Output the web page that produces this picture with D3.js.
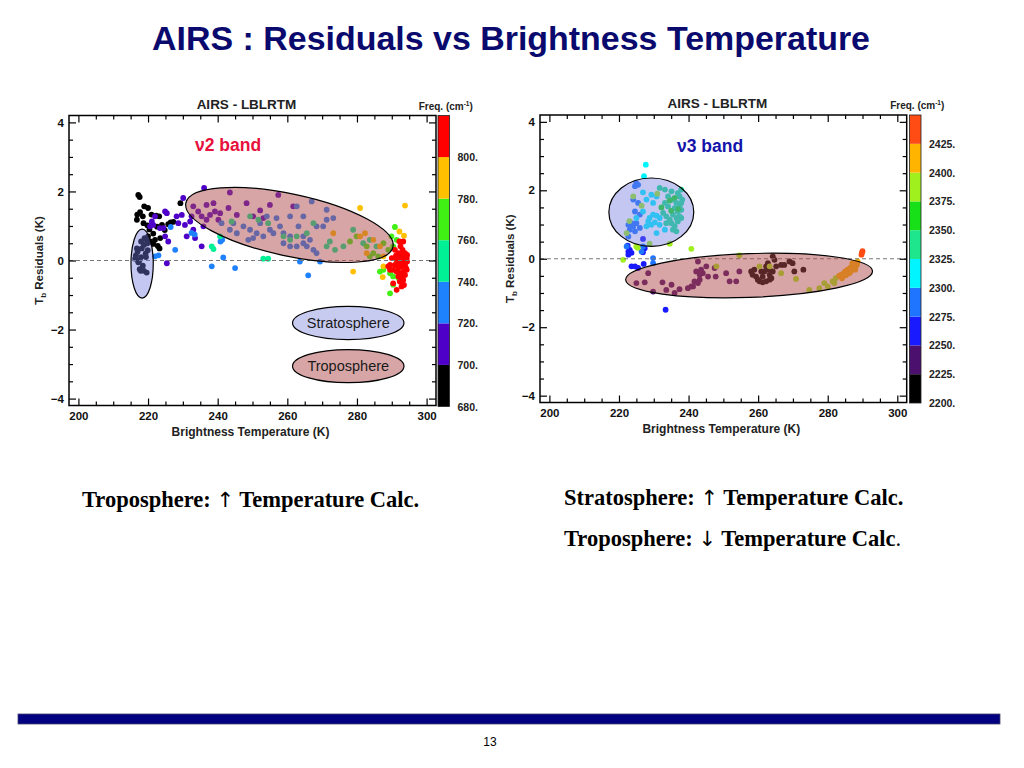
<!DOCTYPE html>
<html><head><meta charset="utf-8">
<script src="https://cdn.jsdelivr.net/npm/d3@7/dist/d3.min.js"></script>
<style>
html,body{margin:0;padding:0;background:#fff;}
svg{display:block;}
</style></head>
<body>
<script>
// ---------------- DATA ----------------
const xTicks = [200, 220, 240, 260, 280, 300];
const yTicks = [-4, -2, 0, 2, 4];

// v2 band (left chart) colour bins (cm-1)
const v2Bins = [680, 700, 720, 740, 760, 780, 800, 820];
const v2Colors = ["#000000", "#4f00c8", "#1e82ff", "#00f096", "#40f014", "#ffc000", "#ff0000"];
const v2Labels = ["680.", "700.", "720.", "740.", "760.", "780.", "800."];

// points [Tb (K), residual (K)] per frequency bin
const v2_680 = [[217.2,1.90],[217.6,1.84],[218.9,1.57],[220.0,1.52],[216.9,1.33],[217.7,1.40],[218.5,1.28],[216.8,1.18],[218.7,1.08],[219.8,1.02],[221.0,1.33],[222.3,1.30],[223.2,1.28],[220.4,0.90],[221.5,0.78],[222.6,0.98],[224.0,1.03],[224.8,0.88],[225.8,1.05],[226.5,1.10],[227.3,1.12],[229.3,1.66],[220.6,0.55],[221.5,0.48],[222.8,0.42],[223.3,0.35],[220.0,0.70],[219.2,0.62],[223.5,0.65],[222.0,0.60],
  [216.5,0.15],[217.0,0.25],[217.5,0.0],[218.2,0.35],[218.8,0.45],[219.3,0.2],[217.6,-0.25],[218.5,-0.15],[219.6,-0.35],[216.3,0.05],[218.0,0.55],[219.0,0.65],[219.8,0.5],[217.2,-0.05],[218.8,-0.3],[216.8,0.35],[219.4,0.1],[218.0,0.1],[217.9,-0.3],[219.9,0.3]];
const v2_700 = [[220.6,0.99],[221.5,1.03],[223.4,0.94],[224.9,1.42],[225.4,1.37],[224.4,0.94],[224.9,0.70],[225.8,0.55],[225.4,-0.08],[228.2,1.28],[228.7,1.08],[229.7,1.32],[230.6,1.03],[231.1,0.70],[232.1,1.13],[232.5,1.28],[233.0,0.89],[233.5,0.65],[235.4,0.41],[235.9,0.99],[236.1,2.10],[230.1,1.81],[222.0,1.28],[221.1,1.13],
  [233.0,1.57],[236.8,1.61],[238.8,1.66],[239.2,1.42],[237.8,1.32],[240.7,1.37],[240.2,1.18],[243.5,1.97],[243.1,1.52],[245.5,1.32],[248.3,1.66],[252.2,1.45],[253.1,1.23],[255.0,1.61],[257.4,1.90],[261.7,1.57],[250.2,1.28],[236.8,1.18],[235.4,1.28],[234.4,1.42]];
const v2_720 = [[247.4,0.99],[249.3,0.89],[251.2,0.79],[253.1,0.70],[248.8,0.60],[250.2,0.65],[255.0,0.89],[257.9,0.99],[258.9,0.79],[260.8,0.70],[263.2,0.99],[264.6,0.70],[265.6,0.41],[267.5,0.31],[268.4,0.21],[262.7,0.41],[264.6,0.50],[266.5,0.60],[271.3,1.47],[271.3,1.18],[273.2,1.23],[270.3,0.99],[258.9,0.50],[245.5,0.79],[243.5,0.89],[241.1,1.08],[244.5,1.08],[254.1,1.28],[256.9,1.23],[260.8,1.28],[262.7,1.57],[264.6,1.28],[268.4,0.99],[256.0,0.79],[260.8,0.41],[252.2,1.08],
  [222.0,0.12],[223.0,0.15],[227.8,0.31],[238.3,-0.17],[241.6,0.09],[245.0,-0.22],[266.0,-0.43],[263.6,-0.03],[269.4,-0.03],[240.8,0.55],[241.3,0.60],[267.0,1.71],[226.5,0.97],[232.5,0.80],[233.4,0.75]];
const v2_740 = [[244.0,1.13],[249.3,1.28],[251.7,1.18],[254.5,1.08],[258.9,0.70],[260.8,0.60],[262.7,0.70],[265.6,0.79],[267.5,1.08],[271.3,0.41],[272.2,0.55],[273.7,0.31],[276.1,0.41],[278.9,0.89],[281.8,0.50],[283.7,0.60],[285.6,0.41],
  [238.3,0.41],[238.8,0.33],[253.1,0.05],[254.5,0.05],[240.7,0.70]];
const v2_760 = [[290.9,0.97],[289.9,0.70],[291.4,0.60],[290.4,0.41],[289.0,0.31],[286.6,-0.32],[287.6,-0.27],[289.5,-0.37],[290.4,-0.46],[290.4,-0.70],[289.5,-0.95],[291.9,-0.51],[291.4,-0.08],[286.1,0.12],
  [279.9,0.70],[282.8,0.41],[284.7,0.21],[278.0,0.55],[287.6,0.50],[283.7,0.12]];
const v2_780 = [[280.9,1.52],[293.8,1.59],[293.5,0.72],[292.2,0.84],[278.9,-0.32],[287.4,-0.48],[273.2,0.79],[280.9,0.70],[282.3,0.79],[284.7,0.60],[286.6,0.41],[282.8,0.21],[287.6,0.12],[287.6,-0.17]];
const v2_800 = [[290.9,0.31],[291.9,0.21],[292.8,0.16],[293.8,0.21],[293.3,0.12],[292.3,0.07],[291.4,0.02],[294.3,0.07],[293.3,-0.03],[292.2,-0.08],[290.9,-0.13],[289.5,-0.13],[293.8,-0.13],[292.8,-0.17],[291.9,-0.22],[294.3,-0.27],[293.3,-0.32],[292.3,-0.37],[291.4,-0.32],[290.4,-0.27],[293.8,-0.42],[292.8,-0.46],[291.9,-0.46],[293.3,-0.56],[292.3,-0.61],[293.5,-0.71],[292.8,-0.75],[291.4,-0.85],[290.4,-0.66],[289.5,-0.27],[289.0,-0.17],[292.2,0.55],[293.3,0.55],[294.4,0.16],[294.4,-0.03],[294.1,-0.22],[290.0,0.07],[291.2,0.14],[292.5,0.41],[293.1,0.31]];
const v2Points = [v2_680, v2_700, v2_720, v2_740, v2_760, v2_780, v2_800];

// v3 band (right chart)
const v3Bins = [2200, 2225, 2250, 2275, 2300, 2325, 2350, 2375, 2400, 2425, 2450];
const v3Colors = ["#000000", "#4b0f6e", "#1a1aff", "#1f75ff", "#00f5ff", "#1ee68c", "#18e018", "#a0f01e", "#ffb400", "#ff4b14"];
const v3Labels = ["2200.", "2225.", "2250.", "2275.", "2300.", "2325.", "2350.", "2375.", "2400.", "2425."];

const v3_2200 = [[258.0,-0.37],[258.9,-0.32],[259.4,-0.52],[259.9,-0.61],[260.4,-0.66],[261.3,-0.52],[261.8,-0.37],[262.3,-0.22],[262.8,-0.13],[263.1,-0.32],[263.3,-0.47],[263.8,-0.57],[262.3,-0.66],[264.2,0.07],[264.7,-0.03],[265.2,-0.22],[266.6,-0.18],[267.5,-0.18],[269.0,-0.08],[269.9,-0.13],[270.4,-0.37],[273.0,-0.32],[264.2,-0.37],[263.3,-0.61],[260.9,-0.37],[258.4,-0.47],[261.3,-0.69]];
const v3_2225 = [[225.0,-0.71],[227.4,-0.69],[229.8,-0.96],[232.5,-0.69],[233.6,-0.91],[235.1,-0.76],[236.0,-1.00],[237.4,-0.89],[239.8,-0.86],[240.8,-0.81],[242.7,-0.08],[242.2,-0.37],[243.2,-0.47],[243.6,-0.32],[244.1,-0.42],[243.2,-0.61],[242.7,-0.71],[245.1,-0.22],[245.6,-0.52],[247.5,-0.27],[247.8,-0.52],[250.8,-0.42],[251.8,-0.66],[253.7,-0.66],[254.6,-0.37],[228.4,-0.42],[241.3,-0.81],[241.7,-0.66]];
const v3_2250 = [[222.7,0.21],[223.1,0.26],[223.6,0.17],[222.7,0.12],[226.9,0.19],[227.4,0.31],[223.6,-0.22],[224.6,-0.22],[225.5,-0.27],[227.1,-0.15],[233.4,-1.49],[226.9,0.58],[222.5,0.38]];
const v3_2275 = [[224.6,2.12],[225.0,2.21],[225.5,2.16],[224.1,1.73],[225.5,1.63],[224.6,1.38],[226.0,1.29],[223.6,1.04],[224.1,0.95],[222.7,0.99],[223.1,0.85],[225.0,1.04],[226.0,0.90],[222.7,0.65],[224.6,0.80],[222.2,0.36],[226.9,0.36],[226.5,0.21],[229.8,0.02],[229.8,-0.13]];
const v3_2300 = [[227.7,2.75],[227.2,2.41],[226.9,1.94],[227.9,1.73],[229.3,1.87],[229.8,1.63],[230.8,1.82],[226.9,1.38],[228.8,1.19],[229.8,1.29],[230.8,1.26],[228.4,1.09],[229.3,0.99],[230.3,1.06],[231.7,1.19],[227.9,0.95],[231.7,0.99],[233.2,0.85],[230.8,0.75],[225.0,1.19]];
const v3_2325 = [[231.7,2.07],[233.2,2.02],[234.1,1.82],[235.1,1.97],[235.5,1.73],[236.5,1.63],[236.9,1.92],[237.4,1.82],[237.9,2.02],[238.2,1.73],[236.0,1.48],[236.9,1.38],[237.4,1.53],[237.9,1.43],[235.5,1.29],[236.5,1.19],[237.4,1.24],[234.6,1.14],[233.6,1.04],[235.1,1.04],[236.0,0.95],[236.9,1.09],[237.9,1.19],[235.5,0.85],[236.5,0.80],[233.2,1.63],[234.1,1.53],[232.7,1.34],[233.6,1.24],[237.9,1.63]];
const v3_2350 = [[234.6,1.70],[236.0,1.78],[237.0,1.45],[235.0,1.40],[232.2,1.50]];
const v3_2375 = [[248.0,-0.22],[254.6,0.10],[260.4,-0.22],[266.6,-0.42],[270.9,-0.59],[274.7,-0.91],[277.6,-0.86],[279.0,-0.71],[281.4,-0.66],[282.3,-0.57],[283.3,-0.50],[284.2,-0.47],[280.0,-0.81],[281.9,-0.71],[263.3,-0.22],
  [221.2,-0.03],[240.8,0.29],[225.0,0.36],[225.4,0.32],[234.6,0.44],[228.8,0.44],[224.1,1.82],[222.2,0.75],[226.5,1.55],[223.0,1.10],[231.0,1.90]];
const v3_2400 = [[283.3,-0.50],[283.8,-0.47],[284.3,-0.45],[284.7,-0.42],[285.0,-0.37],[285.2,-0.40],[285.7,-0.32],[286.0,-0.35],[286.2,-0.30],[286.4,-0.37],[286.6,-0.25],[286.9,-0.32],[287.1,-0.22],[287.3,-0.27],[287.6,-0.20],[287.8,-0.24],[288.1,-0.13],[288.3,-0.19],[287.9,-0.32],[285.7,-0.44],[284.7,-0.50],[286.6,-0.37],[287.1,-0.13],[288.6,-0.08],[288.4,-0.15],[286.2,-0.42],[285.2,-0.48],[284.1,-0.57]];
const v3_2425 = [[289.8,0.17],[290.0,0.22],[289.7,0.12]];
const v3Points = [v3_2200, v3_2225, v3_2250, v3_2275, v3_2300, v3_2325, v3_2350, v3_2375, v3_2400, v3_2425];

// ---------------- DRAW ----------------
const svg = d3.select("body").append("svg").attr("width", 1024).attr("height", 768)
  .style("font-family", "'Liberation Sans', Arial, Helvetica, sans-serif");

svg.append("text").attr("x", 511).attr("y", 50).attr("text-anchor", "middle")
  .attr("font-size", 33.5).attr("font-weight", "bold").attr("fill", "#0a0a6e")
  .attr("textLength", 718).attr("lengthAdjust", "spacingAndGlyphs")
  .text("AIRS : Residuals vs Brightness Temperature");

function drawChart(o) {
  const g = svg.append("g");
  const x = d3.scaleLinear().domain([197.3, 302.7]).range([o.x0, o.x1]);
  const y = d3.scaleLinear().domain([-4.2, 4.2]).range([o.y1, o.y0]);
  const minorX = d3.range(200, 301, 5).filter(v => v % 20 !== 0);
  const minorY = d3.range(-4, 4.01, 0.5).filter(v => Math.abs(v % 2) > 1e-6);

  // points
  const pts = [];
  o.points.forEach((arr, i) => arr.forEach(p => pts.push({t: p[0], r: p[1], f: o.bins[i]})));
  const color = d3.scaleThreshold().domain(o.bins.slice(1, -1)).range(o.colors);
  g.append("g").selectAll("circle").data(pts).join("circle")
    .attr("cx", d => x(d.t)).attr("cy", d => y(d.r)).attr("r", 2.9)
    .attr("fill", d => color(d.f));

  // zero line
  g.append("line").attr("x1", o.x0).attr("x2", o.x1).attr("y1", y(0)).attr("y2", y(0))
    .attr("stroke", "#777").attr("stroke-width", 1).attr("stroke-dasharray", "4,3");

  // ellipses (overlays)
  o.ellipses.forEach(e => {
    g.append("ellipse")
      .attr("transform", `translate(${x(e.t)},${y(e.r)}) rotate(${e.angle})`)
      .attr("rx", x(197.3 + e.rt) - x(197.3)).attr("ry", y(0) - y(e.rr))
      .attr("fill", e.fill).attr("fill-opacity", e.op)
      .attr("stroke", "#000").attr("stroke-width", 1.2);
  });
  (o.legend || []).forEach(e => {
    g.append("ellipse").attr("cx", x(e.t)).attr("cy", y(e.r))
      .attr("rx", x(197.3 + e.rt) - x(197.3)).attr("ry", y(0) - y(e.rr))
      .attr("fill", e.fill).attr("stroke", "#000").attr("stroke-width", 1.2);
    g.append("text").attr("x", x(e.t)).attr("y", y(e.r) + 5).attr("text-anchor", "middle")
      .attr("font-size", 14.5).attr("fill", "#1a1a1a").text(e.label);
  });

  // frame
  g.append("rect").attr("x", o.x0).attr("y", o.y0).attr("width", o.x1 - o.x0).attr("height", o.y1 - o.y0)
    .attr("fill", "none").attr("stroke", "#000").attr("stroke-width", 1.5);

  const axStyle = a => { a.select(".domain").remove(); a.selectAll("line").attr("stroke", "#000").attr("stroke-width", 1.2); };
  const lab = a => a.selectAll("text").attr("font-size", 11.5).attr("font-weight", "bold").attr("fill", "#111").attr("font-family", "'Liberation Sans', Arial, sans-serif");
  // bottom
  g.append("g").attr("transform", `translate(0,${o.y1})`)
    .call(d3.axisBottom(x).tickValues(xTicks).tickSize(-7).tickPadding(6).tickFormat(d3.format("d")))
    .call(axStyle).call(lab);
  g.append("g").attr("transform", `translate(0,${o.y1})`)
    .call(d3.axisBottom(x).tickValues(minorX).tickSize(-4).tickFormat("")).call(axStyle);
  // top
  g.append("g").attr("transform", `translate(0,${o.y0})`)
    .call(d3.axisTop(x).tickValues(xTicks).tickSize(-7).tickFormat("")).call(axStyle);
  g.append("g").attr("transform", `translate(0,${o.y0})`)
    .call(d3.axisTop(x).tickValues(minorX).tickSize(-4).tickFormat("")).call(axStyle);
  // left
  g.append("g").attr("transform", `translate(${o.x0},0)`)
    .call(d3.axisLeft(y).tickValues(yTicks).tickSize(-7).tickPadding(5).tickFormat(d3.format("d")))
    .call(axStyle).call(lab);
  g.append("g").attr("transform", `translate(${o.x0},0)`)
    .call(d3.axisLeft(y).tickValues(minorY).tickSize(-4).tickFormat("")).call(axStyle);
  // right
  g.append("g").attr("transform", `translate(${o.x1},0)`)
    .call(d3.axisRight(y).tickValues(yTicks).tickSize(-7).tickFormat("")).call(axStyle);
  g.append("g").attr("transform", `translate(${o.x1},0)`)
    .call(d3.axisRight(y).tickValues(minorY).tickSize(-4).tickFormat("")).call(axStyle);

  // titles
  g.append("text").attr("x", (o.x0 + o.x1) / 2 - 6).attr("y", o.y0 - 7).attr("text-anchor", "middle")
    .attr("font-size", 13.5).attr("font-weight", "bold").attr("fill", "#222").text("AIRS - LBLRTM");
  g.append("text").attr("x", (o.x0 + o.x1) / 2 - 2).attr("y", o.y1 + 30).attr("text-anchor", "middle")
    .attr("font-size", 12).attr("font-weight", "bold").attr("fill", "#222").text("Brightness Temperature (K)");
  const yl = g.append("text").attr("transform", `translate(${o.ylx},${(o.y0 + o.y1) / 2}) rotate(-90)`)
    .attr("text-anchor", "middle").attr("font-size", 11.5).attr("font-weight", "bold").attr("fill", "#222");
  yl.append("tspan").text("T");
  yl.append("tspan").attr("font-size", 8).attr("dy", 3).text("b");
  yl.append("tspan").attr("dy", -3).text(" Residuals (K)");

  // band label
  g.append("text").attr("x", o.bandX).attr("y", o.bandY).attr("font-size", 17.5).attr("font-weight", "bold")
    .attr("fill", o.bandColor).text(o.bandText);

  // colour bar
  const cb = d3.scaleLinear().domain([o.bins[0], o.bins[o.bins.length - 1]]).range([o.cbY1, o.y0]);
  const segs = o.colors.map((c, i) => ({c, lo: o.bins[i], hi: o.bins[i + 1]}));
  g.append("g").selectAll("rect").data(segs).join("rect")
    .attr("x", o.cbX).attr("width", o.cbW)
    .attr("y", d => cb(d.hi)).attr("height", d => cb(d.lo) - cb(d.hi)).attr("fill", d => d.c);
  g.append("rect").attr("x", o.cbX).attr("y", o.y0).attr("width", o.cbW).attr("height", o.cbY1 - o.y0)
    .attr("fill", "none").attr("stroke", "#222").attr("stroke-width", 0.8);
  g.append("g").selectAll("text").data(o.labels).join("text")
    .attr("x", o.cbX + o.cbW + 8).attr("y", (d, i) => cb(o.bins[i]) + 4)
    .attr("font-size", 10.5).attr("font-weight", "bold").attr("fill", "#222").text(d => d);
  const ft = g.append("text").attr("x", o.cbX + o.cbW / 2 + 2).attr("y", o.y0 - 6).attr("text-anchor", "middle")
    .attr("font-size", 10).attr("font-weight", "bold").attr("fill", "#222");
  ft.append("tspan").text("Freq. (cm");
  ft.append("tspan").attr("font-size", 6.5).attr("dy", -4).text("-1");
  ft.append("tspan").attr("dy", 4).text(")");
}

const stratFill = "#737ae1", tropFill = "#af4b4b";

drawChart({
  x0: 69, x1: 436, y0: 115.5, y1: 405.5, ylx: 43,
  bins: v2Bins, colors: v2Colors, labels: v2Labels, points: v2Points,
  cbX: 438, cbW: 11.5, cbY1: 406.5,
  bandText: "\u03bd2 band", bandColor: "#e8103c", bandX: 195, bandY: 151,
  ellipses: [
    {t: 218.3, r: -0.09, rt: 3.2, rr: 1.0, angle: 0, fill: stratFill, op: 0.42},
    {t: 260.6, r: 1.03, rt: 30.4, rr: 0.9, angle: 12, fill: tropFill, op: 0.5}
  ],
  legend: [
    {t: 277.5, r: -1.81, rt: 16, rr: 0.48, fill: "#c8cbf0", label: "Stratosphere"},
    {t: 277.5, r: -3.06, rt: 16, rr: 0.48, fill: "#d7a5a5", label: "Troposphere"}
  ]
});

drawChart({
  x0: 540, x1: 906.7, y0: 115, y1: 402.5, ylx: 514,
  bins: v3Bins, colors: v3Colors, labels: v3Labels, points: v3Points,
  cbX: 909.5, cbW: 11.5, cbY1: 403,
  bandText: "\u03bd3 band", bandColor: "#1414aa", bandX: 677, bandY: 152,
  ellipses: [
    {t: 229.3, r: 1.36, rt: 12.2, rr: 1.0, angle: 0, fill: stratFill, op: 0.42},
    {t: 257.4, r: -0.49, rt: 35.5, rr: 0.64, angle: -2, fill: tropFill, op: 0.5}
  ]
});

// bottom notes
const serif = "'Liberation Serif', 'Times New Roman', Times, serif";
function note(xp, yp, label, arrow, tail, len) {
  const t = svg.append("text").attr("x", xp).attr("y", yp).attr("font-family", serif)
    .attr("font-size", 22.5).attr("font-weight", "bold").attr("fill", "#000");
  t.append("tspan").text(label + "  ");
  t.append("tspan").attr("font-family", "'DejaVu Sans', sans-serif").attr("font-weight", "normal").attr("font-size", 21).text(arrow);
  t.append("tspan").text(" Temperature Calc" );
  t.append("tspan").attr("font-weight", tail).text(".");
}
note(82, 507, "Troposphere:", "\u2191", "bold");
note(564, 505, "Stratosphere:", "\u2191", "bold");
note(564, 546, "Troposphere:", "\u2193", "normal");

// footer bar
svg.append("rect").attr("x", 18).attr("y", 714).attr("width", 982).attr("height", 10)
  .attr("fill", "#000080").attr("stroke", "#44446a").attr("stroke-width", 0.8);
svg.append("text").attr("x", 490).attr("y", 746).attr("text-anchor", "middle")
  .attr("font-size", 12).attr("fill", "#000").text("13");
</script>
</body></html>
